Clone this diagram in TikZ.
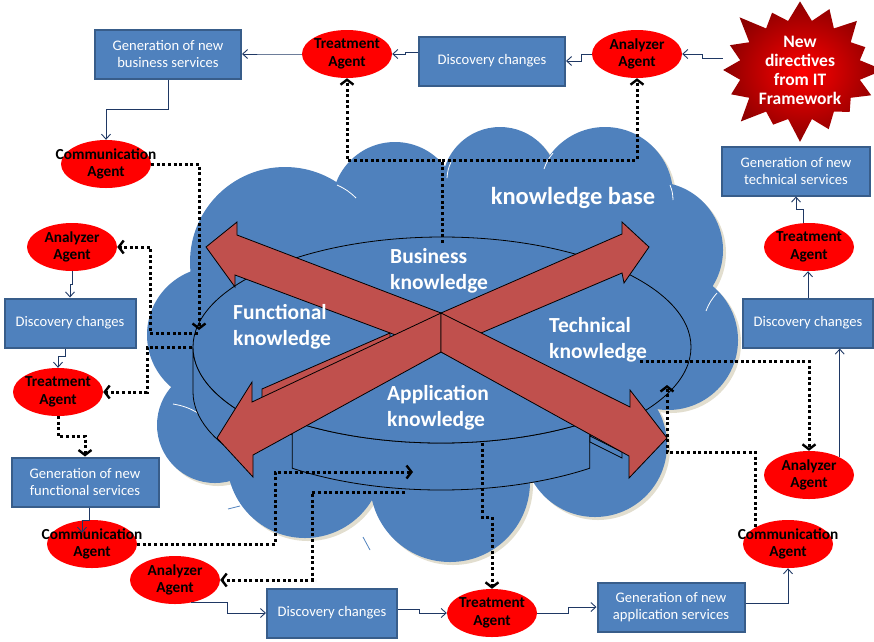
\documentclass[tikz,border=0pt]{standalone}
\usepackage{fontspec}
\setmainfont{Carlito}
\usetikzlibrary{arrows.meta, shapes.geometric, shapes.symbols}
\definecolor{Cb}{HTML}{4F81BD}
\definecolor{Bb}{HTML}{385D8A}
\definecolor{Cr}{HTML}{C0504D}
\definecolor{Bl}{HTML}{1F3864}
\definecolor{Csh}{HTML}{E2DECF}
\tikzset{
  box/.style    = {draw=Bb, fill=Cb, line width=2pt, text=white, align=center,
                   minimum width=146pt, minimum height=49pt, inner sep=2pt,
                   font=\fontsize{14.6}{17.5}\selectfont},
  agent/.style  = {ellipse, fill=red, minimum width=90pt, minimum height=48pt,
                   inner sep=0pt, label={[agtxt]center:#1}},
  agtxt/.style  = {font=\fontsize{15.3}{17.5}\selectfont\bfseries,
                   align=center, inner sep=0pt},
  burst/.style  = {starburst, starburst points=16, starburst point height=26pt,
                   inner color=red, outer color=red!55!black,
                   minimum width=174pt, minimum height=152pt},
  bursttxt/.style = {text=white, font=\fontsize{17.5}{19}\selectfont\bfseries,
                   align=center, inner sep=0pt},
  kb/.style     = {text=white, font=\fontsize{21.5}{26.5}\selectfont\bfseries,
                   align=left, inner sep=0pt},
  disc/.style   = {fill=Cb, draw=black, line width=0.8pt},
  redarm/.style = {fill=Cr, draw=black, line width=0.8pt},
  vein/.style   = {white, line width=0.8pt},
  link/.style   = {Bl, line width=0.9pt, -{Straight Barb[length=5pt, width=9pt]}},
  dots/.style   = {black, line width=3pt, dash pattern=on 3pt off 2.6pt,
                   -{Straight Barb[length=5pt, width=13pt, line width=2.4pt]}},
}
% puffs of the knowledge-base cloud: x/y/radius
\newcommand\kbpuffs{285/262/95, 395/205/63, 500/185/58, 605/195/68,
  655/250/68, 668/340/70, 595/445/72, 450/482/80, 305/460/78,
  215/425/58, 215/335/68}

\begin{document}
\begin{tikzpicture}[x=1pt, y=-1pt]
\useasboundingbox (0,0) rectangle (874,641);

%%──────────────────────────────────────────────────
%% Cloud
%%──────────────────────────────────────────────────
\begin{scope}[shift={(3,3)}]
  \foreach \cx/\cy/\r in \kbpuffs \fill[Csh] (\cx,\cy) circle[radius=\r];
\end{scope}
\foreach \cx/\cy/\r in \kbpuffs \fill[Cb] (\cx,\cy) circle[radius=\r];
\fill[Cb] (440,340) ellipse[x radius=230, y radius=150];

\draw[vein] (337,185) to[bend left=10] (356,198);
\draw[vein] (451,162) to[bend right=10] (447,178);
\draw[vein] (553,153) to[bend right=10] (544,169);
\draw[vein] (670,185) to[bend left=10] (673,200);
\draw[vein] (717,293) to[bend right=10] (706,311);
\draw[vein] (173,404) to[bend left=10] (198,413);
\draw[Cb, line width=0.8pt] (228,509) -- (240,506);
\draw[Cb, line width=0.8pt] (363,537) -- (370,550);

%%──────────────────────────────────────────────────
%% Knowledge disc
%%──────────────────────────────────────────────────
\filldraw[disc] (193,347) -- (193,392)
  arc[start angle=180, end angle=140, x radius=249, y radius=110]
  -- ++(0,-45)
  arc[start angle=140, end angle=180, x radius=249, y radius=110] -- cycle;
\filldraw[disc] (442,347) ellipse[x radius=249, y radius=110];

%% application slice, pulled out
\filldraw[disc] (292.2,421.2) -- ++(0,47)
  arc[start angle=126.7, end angle=53.3, x radius=249, y radius=110]
  -- ++(0,-47)
  arc[start angle=53.3, end angle=126.7, x radius=249, y radius=110] -- cycle;
\filldraw[disc] (441,352) -- (292.2,421.2)
  arc[start angle=126.7, end angle=53.3, x radius=249, y radius=110] -- cycle;
\filldraw[disc] (590,436) -- (622,452) -- (622,458) -- (590,442) -- cycle;

%% crossing arrows
\filldraw[redarm] (441,313) -- (237,235) -- (237,222) -- (206,247)
  -- (235,287) -- (235,275) -- (441,352) -- cycle;
\filldraw[redarm] (441,313) -- (622,234) -- (622,222) -- (649,247)
  -- (624,283) -- (622,273) -- (441,350) -- cycle;
\filldraw[redarm] (262,389) -- (390,333) -- (390,340) -- (262,398) -- cycle;
\filldraw[redarm] (441,313) -- (252,402) -- (252,382) -- (217,438)
  -- (253,477) -- (253,455) -- (441,352) -- cycle;
\filldraw[redarm] (441,313) -- (630,407) -- (630,390) -- (667,438)
  -- (629,478) -- (629,456) -- (441,352) -- cycle;

\node[kb] (kbname) at (573,198) {\fontsize{24.5}{28}\selectfont knowledge base};
\node[kb, anchor=west] (bizk) at (390,271) {Business\\knowledge};
\node[kb, anchor=west] (funk) at (233,327) {Functional\\knowledge};
\node[kb, anchor=west] (teck) at (549,340) {Technical\\knowledge};
\node[kb, anchor=west] (appk) at (387,408) {Application\\knowledge};

%% ends of the dotted links inside the disc
\coordinate (bizout) at (442,243);
\coordinate (funin)  at (199,330);
\coordinate (funa)   at (198,333);
\coordinate (funb)   at (192,347);
\coordinate (appin)  at (413,472);
\coordinate (appa)   at (405,492);
\coordinate (appb)   at (482,443);
\coordinate (tecin)  at (667,385);
\coordinate (teca)   at (640,361);

%%──────────────────────────────────────────────────
%% Boxes and agents
%%──────────────────────────────────────────────────
\node[box] (gb) at (168,54) {Generation of new\\business services};
\node[agent={Treatment\\Agent}] (tr1) at (347,54) {};
\node[box] (dc1) at (492,61) {Discovery changes};
\node[agent={Analyzer\\Agent}] (an1) at (637,54) {};
\node[burst, label={[bursttxt]center:New\\directives\\from IT\\Framework}]
  (itfw) at (800,70) {};

\node[box, minimum width=148pt] (gt) at (796,171)
  {Generation of new\\technical services};
\node[agent={Treatment\\Agent}] (tr4) at (809,247) {};
\node[box, minimum width=130pt] (dc4) at (808,323) {Discovery changes};
\node[agent={Analyzer\\Agent}] (an4) at (809,475) {};
\node[agent={Communication\\Agent}] (cm3) at (788,544) {};

\node[box, minimum width=147pt] (ga) at (671,607)
  {Generation of new\\application services};
\node[agent={Treatment\\Agent}] (tr3) at (492,613) {};
\node[box, minimum width=130pt] (dc3) at (332,613) {Discovery changes};
\node[agent={Analyzer\\Agent}] (an3) at (175,580) {};

\node[agent={Communication\\Agent}] (cm2) at (92,544) {};
\node[box, minimum width=147pt] (gf) at (85,482)
  {Generation of new\\functional services};
\node[agent={Treatment\\Agent}] (tr2) at (58,392) {};
\node[box, minimum width=131pt] (dc2) at (70,323) {Discovery changes};
\node[agent={Analyzer\\Agent}] (an2) at (72,247) {};
\node[agent={Communication\\Agent}] (cm1) at (106,164) {};

%%──────────────────────────────────────────────────
%% Dotted links to and from the knowledge base
%%──────────────────────────────────────────────────
\draw[dots] (bizout) -- ++(0,-83) coordinate (bizfork) -| (tr1.south);
\draw[dots] (bizfork) -| (an1.south);
\draw[dots] (cm1.east) -| (funin);
\draw[dots] (funa) -- ++(-48,0) |- (an2.east);
\draw[dots] (funb) -- ++(-45,0) |- (tr2.east);
\draw[dots] (tr2.south) -- ++(0,20) -| (gf.north);
\draw[dots] (cm2.east) -- ++(138,0) |- (appin);
\draw[dots] (appa) -- ++(-93,0) |- (an3.east);
\draw[dots] (appb) -- ++(0,74) -| (tr3.north);
\draw[dots] (cm3.152) -- ++(0,-74) -| (tecin);
\draw[dots] (teca) -| (an4.north);

%%──────────────────────────────────────────────────
%% Solid links
%%──────────────────────────────────────────────────
\draw[link] ([yshift=12pt]itfw.west) -- ++(-20,0) |- (an1.east);
\draw[link] (an1.west) -- ++(-10,0) |- (dc1.east);
\draw[link] ([yshift=9pt]dc1.west) -- ++(-13,0) |- (tr1.east);
\draw[link] (tr1.west) -- ++(-31,0) |- (gb.east);
\draw[link] (gb.south) -- ++(0,30) -| (cm1.north);
\draw[link] (an2.south) -- ++(0,13) -| (dc2.north);
\draw[link] ([xshift=-5pt]dc2.south) -- ++(0,8) -| (tr2.north);
\draw[link] ([xshift=4pt]gf.south) -- ++(0,13)
  -| ([xshift=-10pt, yshift=-13pt]cm2.north);
\draw[link] (an3.-55) -- ++(37,0) |- (dc3.west);
\draw[link] ([yshift=4pt]dc3.east) -- ++(21,0) |- (tr3.west);
\draw[link] (tr3.east) -- ++(31,0) |- (ga.west);
\draw[link] ([yshift=4pt]ga.east) -| (cm3.south);
\draw[link] (an4.30) -- (an4.30 |- dc4.south);
\draw[link] (dc4.north) -- (dc4.north |- tr4.south);
\draw[link] ([xshift=-6pt]tr4.north) -- ++(0,-13) -| (gt.south);

\end{tikzpicture}
\end{document}
